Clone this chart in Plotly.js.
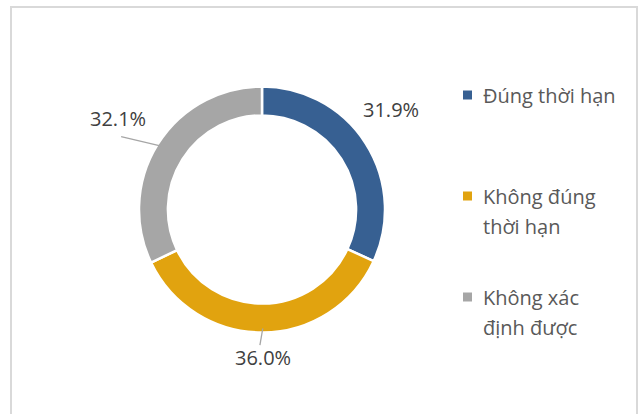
<!DOCTYPE html>
<html>
<head>
<meta charset="utf-8">
<script src="https://cdn.plot.ly/plotly-3.0.1.min.js"></script>
<style>html,body{margin:0;padding:0;background:#fff;}#chart{width:638px;height:414px;}</style>
</head>
<body>
<div id="chart"></div>
<script>
// ---- data ----
var categories = ["Đúng thời hạn", "Không đúng thời hạn", "Không xác định được"];
var legendLines = [["Đúng thời hạn"], ["Không đúng", "thời hạn"], ["Không xác", "định được"]];
var values = [31.9, 36.0, 32.1];
var labels = ["31.9%", "36.0%", "32.1%"];

// ---- styles / layout constants ----
var colors = ["#376092", "#E1A30F", "#A6A6A6"];
var showLeader = [false, true, true];
var W = 638, H = 414;
var CX = 262, CY = 209.5, R = 123, HOLE = 0.765;
var FONT = "'Open Sans', 'Noto Sans', sans-serif";
var labelNudge = [[-11, -10], [0, 0], [-3, -2]];

function px(x) { return x / W; }
function py(y) { return 1 - y / H; }

var total = values.reduce(function (a, b) { return a + b; }, 0);
var annotations = [];
var shapes = [];

// border
shapes.push({type: 'rect', xref: 'paper', yref: 'paper',
  x0: px(11), x1: px(637), y0: py(440), y1: py(7),
  line: {color: '#D9D9D9', width: 2}, fillcolor: 'rgba(0,0,0,0)', layer: 'below'});

// data labels with leader lines, positioned from the slice angles
var cum = 0;
for (var i = 0; i < values.length; i++) {
  var mid = (cum + values[i] / 2) / total * 2 * Math.PI;
  cum += values[i];
  var dx = Math.sin(mid), dy = -Math.cos(mid);
  var halfW = labels[i].length * 5.6, halfH = 10;
  var dist = R + 14.5 + Math.abs(dx) * halfW + Math.abs(dy) * halfH;
  var lx = CX + dx * dist + labelNudge[i][0];
  var ly = CY + dy * dist + labelNudge[i][1];
  annotations.push({xref: 'paper', yref: 'paper', x: px(lx), y: py(ly),
    xanchor: 'center', yanchor: 'middle', showarrow: false, text: labels[i],
    font: {family: FONT, size: 20, color: '#404040'}});
  if (showLeader[i]) {
    var sx = CX + dx * (R - 4), sy = CY + dy * (R - 4);
    var ex = lx - Math.sign(dx) * 3;
    var ey = dy < 0 ? ly + 18 : ly - 12;
    shapes.push({type: 'line', xref: 'paper', yref: 'paper',
      x0: px(sx), y0: py(sy), x1: px(ex), y1: py(ey),
      line: {color: '#A6A6A6', width: 1.3}});
  }
}

// custom legend
var legX = 463, legTextX = 481, legTop = 95, itemStep = 101, lineStep = 30, mk = 9;
for (var j = 0; j < categories.length; j++) {
  var yc = legTop + j * itemStep;
  shapes.push({type: 'rect', xref: 'paper', yref: 'paper',
    x0: px(legX), x1: px(legX + mk), y0: py(yc + mk / 2), y1: py(yc - mk / 2),
    fillcolor: colors[j], line: {width: 0}});
  for (var k = 0; k < legendLines[j].length; k++) {
    annotations.push({xref: 'paper', yref: 'paper', x: px(legTextX), y: py(yc + k * lineStep),
      xanchor: 'left', yanchor: 'middle', showarrow: false, text: legendLines[j][k],
      font: {family: FONT, size: 20, color: '#595959'}});
  }
}

var trace = {
  type: 'pie',
  labels: categories,
  values: values,
  hole: HOLE,
  sort: false,
  direction: 'clockwise',
  rotation: 0,
  textinfo: 'none',
  hoverinfo: 'label+percent',
  marker: {colors: colors, line: {color: '#FFFFFF', width: 2.5}},
  domain: {x: [px(CX - R), px(CX + R)], y: [py(CY + R), py(CY - R)]},
  showlegend: false
};

var layout = {
  width: W, height: H,
  margin: {l: 0, r: 0, t: 0, b: 0},
  paper_bgcolor: '#FFFFFF',
  showlegend: false,
  annotations: annotations,
  shapes: shapes,
  font: {family: FONT}
};

Plotly.newPlot('chart', [trace], layout, {displayModeBar: false, staticPlot: true});
</script>
</body>
</html>
